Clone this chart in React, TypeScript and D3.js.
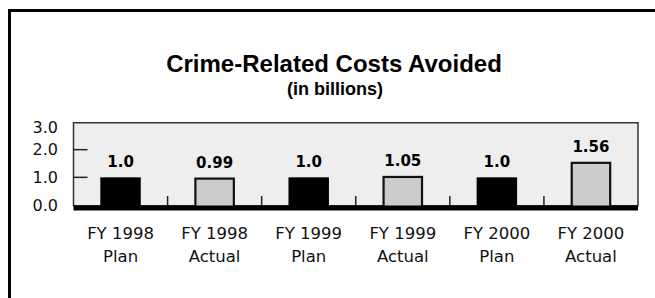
import React from "react";
import * as d3 from "d3";

const categories = [
  ["FY 1998", "Plan"],
  ["FY 1998", "Actual"],
  ["FY 1999", "Plan"],
  ["FY 1999", "Actual"],
  ["FY 2000", "Plan"],
  ["FY 2000", "Actual"],
];
const values = [1.0, 0.99, 1.0, 1.05, 1.0, 1.56];
const valueLabels = ["1.0", "0.99", "1.0", "1.05", "1.0", "1.56"];
const yTicks = [0, 1, 2, 3];

const W = 655;
const H = 298;
const plot = { left: 73.5, right: 638, top: 122, bottom: 205 };

const App = () => {
  const x = d3
    .scaleBand<number>()
    .domain(d3.range(categories.length))
    .range([plot.left, plot.right])
    .padding(0);

  const y = d3.scaleLinear().domain([0, 3]).range([plot.bottom, plot.top]);

  const barW = x.bandwidth() * 0.43;
  const font = "'DejaVu Sans', Verdana, sans-serif";

  return (
    <svg
      width={W}
      height={H}
      style={{ position: "absolute", left: 0, top: 0, background: "#fff" }}
    >
      {/* outer frame, only top and left show */}
      <rect x={9.5} y={10.5} width={W + 20} height={H + 20} fill="none" stroke="#000" strokeWidth={3} />

      <text
        x={334}
        y={72}
        textAnchor="middle"
        fontFamily="'Liberation Sans', Arial, sans-serif"
        fontWeight="bold"
        fontSize={24}
      >
        Crime-Related Costs Avoided
      </text>
      <text
        x={335}
        y={95}
        textAnchor="middle"
        fontFamily="'Liberation Sans', Arial, sans-serif"
        fontWeight="bold"
        fontSize={18}
      >
        (in billions)
      </text>

      <rect
        x={plot.left}
        y={y(3) + 0.75}
        width={plot.right - plot.left}
        height={plot.bottom - y(3)}
        fill="#eeeeee"
        stroke="#333"
        strokeWidth={1.5}
      />

      {yTicks.map((t) => (
        <g key={t}>
          {t > 0 && t < 3 && (
            <line x1={plot.left} x2={plot.left + 14} y1={y(t)} y2={y(t)} stroke="#222" strokeWidth={1.5} />
          )}
          <text
            x={58}
            y={t === 3 ? y(t) + 5 : y(t)}
            dy="0.36em"
            textAnchor="end"
            fontFamily={font}
            fontSize={16}
            fill="#111"
          >
            {d3.format(".1f")(t)}
          </text>
        </g>
      ))}

      {categories.slice(1).map((_, i) => (
        <line
          key={i}
          x1={x(i + 1)!}
          x2={x(i + 1)!}
          y1={plot.bottom - 9}
          y2={plot.bottom}
          stroke="#222"
          strokeWidth={1.5}
        />
      ))}

      {values.map((v, i) => {
        const cx = x(i)! + x.bandwidth() / 2;
        const actual = i % 2 === 1;
        return (
          <g key={i}>
            <rect
              x={cx - barW / 2 + (actual ? 1 : 0)}
              y={y(v) + (actual ? 1 : 0)}
              width={barW - (actual ? 2 : 0)}
              height={plot.bottom - y(v) + 2}
              fill={actual ? "#cccccc" : "#000"}
              stroke={actual ? "#111" : "none"}
              strokeWidth={2.2}
            />
            <text
              x={cx}
              y={y(v) - 10}
              textAnchor="middle"
              fontFamily={font}
              fontWeight="bold"
              fontSize={15}
            >
              {valueLabels[i]}
            </text>
            <text x={cx} y={239} textAnchor="middle" fontFamily={font} fontSize={16.5} fill="#111">
              {categories[i][0]}
            </text>
            <text x={cx} y={262} textAnchor="middle" fontFamily={font} fontSize={16.5} fill="#111">
              {categories[i][1]}
            </text>
          </g>
        );
      })}

      <line x1={plot.left} x2={plot.right} y1={plot.bottom + 3} y2={plot.bottom + 3} stroke="#000" strokeWidth={5} />
    </svg>
  );
};

export default App;
